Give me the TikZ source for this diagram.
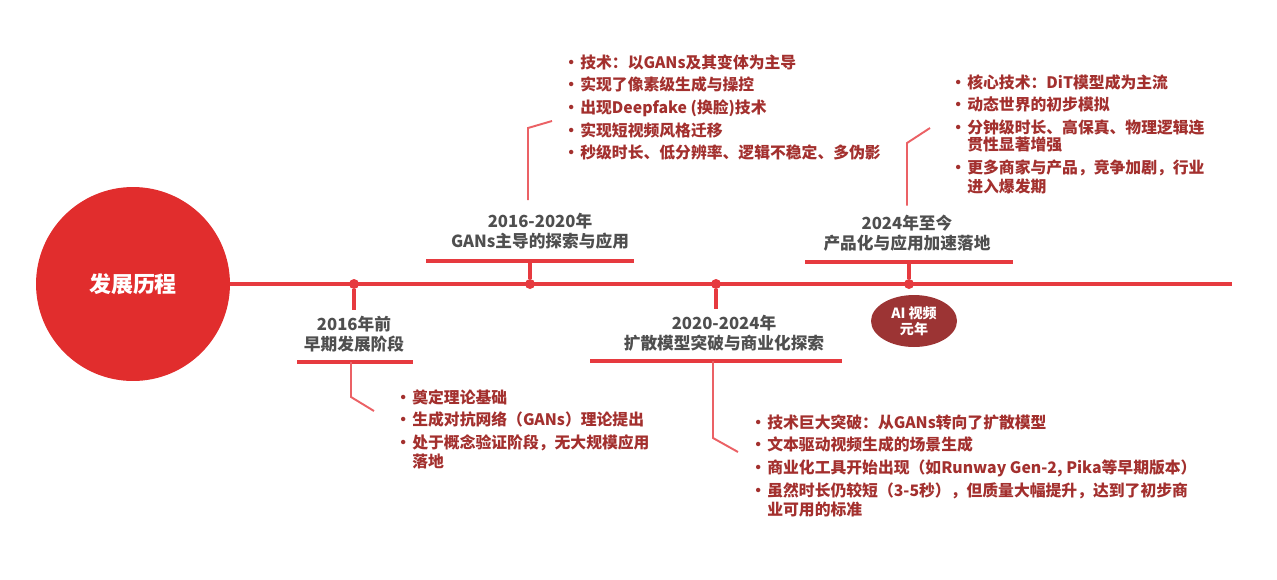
\documentclass[tikz,border=0pt]{standalone}
\usepackage{fontspec}
\setmainfont{Noto Sans CJK SC}
\usetikzlibrary{positioning,shapes.geometric}

\definecolor{hubred}{HTML}{E12D2D}
\definecolor{linered}{HTML}{E63A3F}
\definecolor{itemred}{HTML}{A3302E}
\definecolor{titlegray}{HTML}{4F4F4F}
\definecolor{yearred}{HTML}{9C3434}

\newcommand{\bul}{\textbullet}

\begin{document}
\begin{tikzpicture}[x=0.02cm, y=-0.02cm,
    stage/.style={font=\bfseries\fontsize{9.5}{11.5}\selectfont, text=titlegray, align=center, inner sep=3pt},
    items/.style={font=\bfseries\fontsize{9}{12.9}\selectfont, text=itemred, anchor=north west, inner sep=0pt},
    event/.style={circle, fill=linered, inner sep=0pt, minimum size=0.2cm},
    bar/.style={linered, line width=1.8pt},
    link/.style={linered!80, line width=1.1pt}]

    \useasboundingbox (0,0) rectangle (1277,579);

    % Hub and time line
    \draw (133,284) node[circle, fill=hubred, minimum size=3.88cm, text=white, font=\bfseries\fontsize{12.5}{14}\selectfont] (hub) {发展历程};
    \coordinate (lineend) at (1232,284);
    \draw[bar] (hub.east) -- (lineend);

    % Events on the line
    \draw (354,284) node[event] (d1) {};
    \draw (530,284) node[event] (d2) {};
    \draw (716,284) node[event] (d3) {};
    \draw (909,284) node[event] (d4) {};

    % Stage titles
    \draw (354,334) node[stage] (t1) {2016年前\\早期发展阶段};
    \draw (540,231) node[stage] (t2) {2016-2020年\\GANs主导的探索与应用};
    \draw (724,333) node[stage] (t3) {2020-2024年\\扩散模型突破与商业化探索};
    \draw (907,233) node[stage] (t4) {2024年至今\\产品化与应用加速落地};

    \draw (914,321) node[ellipse, fill=yearred, minimum width=1.72cm, minimum height=1.04cm, inner sep=0pt, text=white, align=center, font=\bfseries\fontsize{8}{9.5}\selectfont] (yuan) {AI 视频\\元年};

    % Bars under / over the titles
    \coordinate (b1w) at (297,362); \coordinate (b1e) at (413,362);
    \coordinate (b2w) at (426,261); \coordinate (b2e) at (634,261);
    \coordinate (b3w) at (590,361); \coordinate (b3e) at (842,361);
    \coordinate (b4w) at (805,262); \coordinate (b4e) at (1013,262);
    \draw[bar] (b1w) -- (b1e);
    \draw[bar] (b2w) -- (b2e);
    \draw[bar] (b3w) -- (b3e);
    \draw[bar] (b4w) -- (b4e);

    % Stems from the dots
    \draw[bar] (d1) -- (d1 |- t1.north);
    \draw[bar] (d2) -- (d2 |- b2w);
    \draw[bar] (d3) -- (d3 |- t3.north);
    \draw[bar] (d4) -- (d4 |- b4w);

    % Bullet lists
    \draw (395,387) node[items] (l1) {\begin{tabular}{@{}p{0.34cm}@{}l@{}}
        \bul & 奠定理论基础\\
        \bul & 生成对抗网络（GANs）理论提出\\
        \bul & 处于概念验证阶段，无大规模应用\\[-2pt]
             & 落地
    \end{tabular}};
    \draw (563,52) node[items] (l2) {\begin{tabular}{@{}p{0.34cm}@{}l@{}}
        \bul & 技术：以GANs及其变体为主导\\
        \bul & 实现了像素级生成与操控\\
        \bul & 出现Deepfake (换脸)技术\\
        \bul & 实现短视频风格迁移\\
        \bul & 秒级时长、低分辨率、逻辑不稳定、多伪影
    \end{tabular}};
    \draw (750,412) node[items] (l3) {\begin{tabular}{@{}p{0.34cm}@{}l@{}}
        \bul & 技术巨大突破：从GANs转向了扩散模型\\
        \bul & 文本驱动视频生成的场景生成\\
        \bul & 商业化工具开始出现（如Runway Gen-2, Pika等早期版本）\\
        \bul & 虽然时长仍较短（3-5秒），但质量大幅提升，达到了初步商\\[-2pt]
             & 业可用的标准
    \end{tabular}};
    \draw (950,72) node[items] (l4) {\begin{tabular}{@{}p{0.34cm}@{}l@{}}
        \bul & 核心技术：DiT模型成为主流\\
        \bul & 动态世界的初步模拟\\
        \bul & 分钟级时长、高保真、物理逻辑连\\[-3pt]
             & 贯性显著增强\\
        \bul & 更多商家与产品，竞争加剧，行业\\[-2pt]
             & 进入爆发期
    \end{tabular}};

    % Links to the bullet lists
    \coordinate (t2top) at ([yshift=4pt]t2.north);
    \coordinate (t4top) at ([yshift=2pt]t4.north);
    \coordinate (k1a) at (351,397); \coordinate (k1b) at (374,411);
    \coordinate (k2a) at (528,128); \coordinate (k2b) at (552,121);
    \coordinate (k3a) at (713,438); \coordinate (k3b) at (738,452);
    \coordinate (k4a) at (907,143); \coordinate (k4b) at (930,128);
    \draw[link] (k1a |- b1w) -- (k1a) -- (k1b);
    \draw[link] (k2a |- t2top) -- (k2a) -- (k2b);
    \draw[link] (k3a |- b3w) -- (k3a) -- (k3b);
    \draw[link] (k4a |- t4top) -- (k4a) -- (k4b);
\end{tikzpicture}
\end{document}
